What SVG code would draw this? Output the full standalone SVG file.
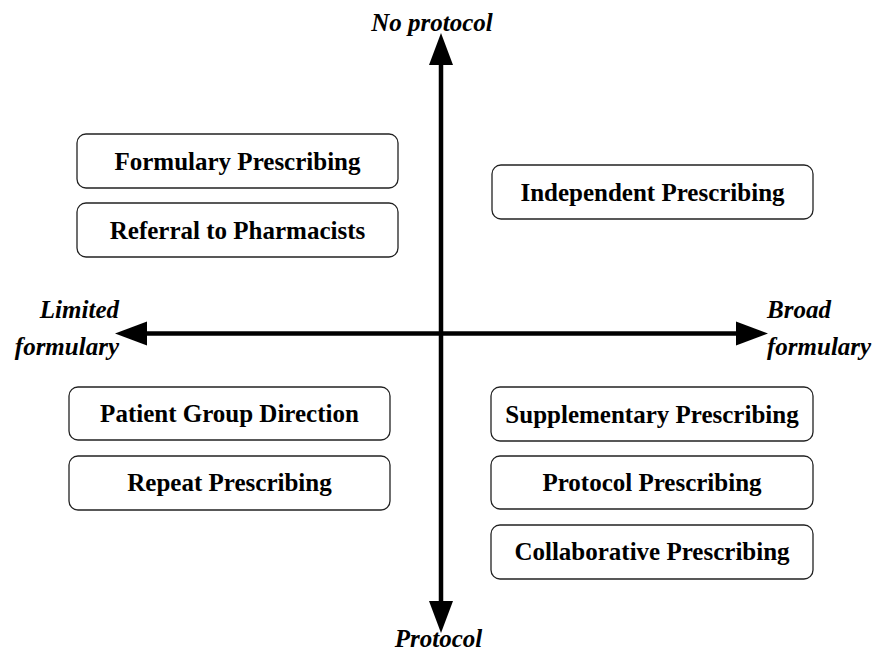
<svg xmlns="http://www.w3.org/2000/svg" width="874" height="653" viewBox="0 0 874 653">
<style>
.box{fill:#fff;stroke:#222;stroke-width:1.3}
.bt{font-family:"Liberation Serif","Times New Roman",serif;font-weight:bold;font-size:25px;text-anchor:middle;fill:#000}
.ax{font-family:"Liberation Serif","Times New Roman",serif;font-weight:bold;font-style:italic;font-size:25px;fill:#000}
.axis{stroke:#000;stroke-width:4.5;fill:none}
</style>
<defs>
<marker id="ah" markerUnits="userSpaceOnUse" markerWidth="34" markerHeight="26" viewBox="0 -13 34 26" refX="0" refY="0" orient="auto-start-reverse" overflow="visible">
<path d="M0,-12 L32,0 L0,12 Z" fill="#000"/>
</marker>
</defs>
<g id="connectors">
<path class="axis" d="M441,65 V601" marker-start="url(#ah)" marker-end="url(#ah)"/>
<path class="axis" d="M147,333.5 H736" marker-start="url(#ah)" marker-end="url(#ah)"/>
</g>
<g id="axis-labels">
<text class="ax" x="432" y="31" text-anchor="middle">No protocol</text>
<text class="ax" x="438.5" y="647" text-anchor="middle">Protocol</text>
<text class="ax" x="119" y="318" text-anchor="end">Limited</text>
<text class="ax" x="119" y="355" text-anchor="end">formulary</text>
<text class="ax" x="767" y="318">Broad</text>
<text class="ax" x="767" y="355">formulary</text>
</g>
<g id="formulary-prescribing"><rect class="box" x="77" y="134" width="321" height="54" rx="9"/><text class="bt" x="237.5" y="170">Formulary Prescribing</text></g>
<g id="referral-to-pharmacists"><rect class="box" x="77" y="203" width="321" height="54" rx="9"/><text class="bt" x="237.5" y="239">Referral to Pharmacists</text></g>
<g id="independent-prescribing"><rect class="box" x="492" y="165" width="321" height="54" rx="9"/><text class="bt" x="652.5" y="201">Independent Prescribing</text></g>
<g id="patient-group-direction"><rect class="box" x="69" y="387" width="321" height="53" rx="9"/><text class="bt" x="229.5" y="422">Patient Group Direction</text></g>
<g id="repeat-prescribing"><rect class="box" x="69" y="456" width="321" height="54" rx="9"/><text class="bt" x="229.5" y="491">Repeat Prescribing</text></g>
<g id="supplementary-prescribing"><rect class="box" x="491" y="387" width="322" height="54" rx="9"/><text class="bt" x="652" y="423">Supplementary Prescribing</text></g>
<g id="protocol-prescribing"><rect class="box" x="491" y="456" width="322" height="53" rx="9"/><text class="bt" x="652" y="491">Protocol Prescribing</text></g>
<g id="collaborative-prescribing"><rect class="box" x="491" y="525" width="322" height="54" rx="9"/><text class="bt" x="652" y="560">Collaborative Prescribing</text></g>
</svg>
